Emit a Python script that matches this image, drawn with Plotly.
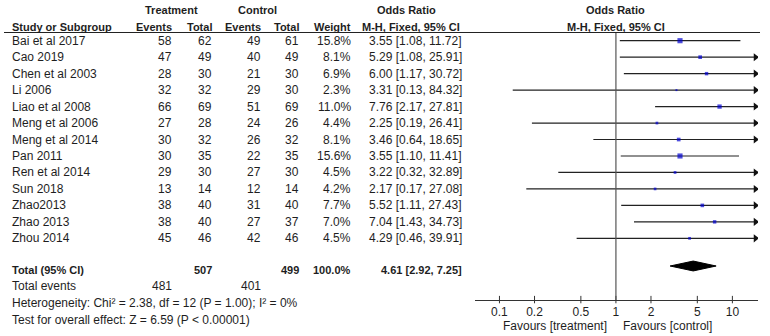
import math
import plotly.graph_objects as go

# ---------------- data ----------------
studies = ["Bai et al 2017", "Cao 2019", "Chen et al 2003", "Li 2006", "Liao et al 2008",
           "Meng et al 2006", "Meng et al 2014", "Pan 2011", "Ren et al 2014", "Sun 2018",
           "Zhao2013", "Zhao 2013", "Zhou 2014"]
t_events = [58, 47, 28, 32, 66, 27, 30, 30, 29, 13, 38, 38, 45]
t_total = [62, 49, 30, 32, 69, 28, 32, 35, 30, 14, 40, 40, 46]
c_events = [49, 40, 21, 29, 51, 24, 26, 22, 27, 12, 31, 27, 42]
c_total = [61, 49, 30, 30, 69, 26, 32, 35, 30, 14, 40, 37, 46]
weights = [15.8, 8.1, 6.9, 2.3, 11.0, 4.4, 8.1, 15.6, 4.5, 4.2, 7.7, 7.0, 4.5]
or_est = [3.55, 5.29, 6.00, 3.31, 7.76, 2.25, 3.46, 3.55, 3.22, 2.17, 5.52, 7.04, 4.29]
or_lo = [1.08, 1.08, 1.17, 0.13, 2.17, 0.19, 0.64, 1.10, 0.32, 0.17, 1.11, 1.43, 0.46]
or_hi = [11.72, 25.91, 30.72, 84.32, 27.81, 26.41, 18.65, 11.41, 32.89, 27.08, 27.43, 34.73, 39.91]
pooled = [4.61, 2.92, 7.25]
total_weight = 100.0
tick_vals = [0.1, 0.2, 0.5, 1, 2, 5, 10]
tick_text = ["0.1", "0.2", "0.5", "1", "2", "5", "10"]
heterogeneity = "Heterogeneity: Chi² = 2.38, df = 12 (P = 1.00); I² = 0%"
overall = "Test for overall effect: Z = 6.59 (P < 0.00001)"

# ---------------- layout constants ----------------
W, H = 770, 336
ROW0, ROWH = 40.7, 16.47          # pixel of first study row, row pitch
def rowpix(p):                     # pixel y -> row units
    return (p - ROW0) / ROWH
LOGMIN, LOGMAX = -1.21, 1.22
XMAX = 10 ** LOGMAX
FONT = "Arial, Liberation Sans, sans-serif"
TXT = "#1e1e1e"
REG, BOLD = 12, 11

y_hdr1, y_hdr2, y_line = rowpix(10), rowpix(27), rowpix(32.5)
y_total, y_diam = rowpix(270), rowpix(266)
y_tev, y_het, y_test = rowpix(286), rowpix(303), rowpix(320)
y_axis = rowpix(300)
n = len(studies)
ys = list(range(n))

fig = go.Figure()

# CI lines
for i in range(n):
    hi = min(or_hi[i], XMAX)
    fig.add_trace(go.Scatter(x=[or_lo[i], hi], y=[ys[i], ys[i]], mode="lines",
                             line=dict(color="#222", width=1.2), xaxis="x2", yaxis="y",
                             hoverinfo="skip", showlegend=False))
# arrows for truncated CIs
arr_y = [ys[i] for i in range(n) if or_hi[i] > XMAX]
fig.add_trace(go.Scatter(x=[XMAX / 10 ** (2.5 / 116.5)] * len(arr_y), y=arr_y, mode="markers",
                         marker=dict(symbol="triangle-right", size=7, color="#111"),
                         xaxis="x2", yaxis="y", hoverinfo="skip", showlegend=False))
# squares
fig.add_trace(go.Scatter(x=or_est, y=ys, mode="markers",
                         marker=dict(symbol="square", size=[1.3 * w ** 0.5 for w in weights],
                                     color="#0000d0", line=dict(width=0)),
                         xaxis="x2", yaxis="y", hoverinfo="skip", showlegend=False))
# diamond
est, lo, hi = pooled
dh = 0.30
fig.add_trace(go.Scatter(x=[lo, est, hi, est, lo], y=[y_diam, y_diam - dh, y_diam, y_diam + dh, y_diam],
                         mode="lines", fill="toself", fillcolor="#000", line=dict(color="#000", width=1),
                         xaxis="x2", yaxis="y", hoverinfo="skip", showlegend=False))
# tick marks crossing the axis line
tx, ty = [], []
for v in tick_vals:
    tx += [v, v, None]
    ty += [y_axis - 0.25, y_axis + 0.2, None]
fig.add_trace(go.Scatter(x=tx, y=ty, mode="lines", line=dict(color="#333", width=1),
                         xaxis="x2", yaxis="y", hoverinfo="skip", showlegend=False))
# null line
fig.add_trace(go.Scatter(x=[1, 1], y=[y_line, y_axis], mode="lines", line=dict(color="#555", width=1.2),
                         xaxis="x2", yaxis="y", hoverinfo="skip", showlegend=False))
# header line
fig.add_shape(type="line", xref="x", yref="y", x0=4, x1=760, y0=y_line, y1=y_line,
              line=dict(color="#222", width=1.2))

ann = []
def txt(x, y, s, anchor="right", bold=False, xref="x", xshift=0):
    ann.append(dict(x=x, y=y, xref=xref, yref="y", text=f"<b>{s}</b>" if bold else s,
                    showarrow=False, xanchor=anchor, yanchor="middle", borderpad=0, xshift=xshift,
                    font=dict(family=FONT, size=BOLD if bold else REG, color=TXT)))

NULL = math.log10(1)   # annotation position on the log axis

# headers
txt(171, y_hdr1, "Treatment", "center", True)
txt(257, y_hdr1, "Control", "center", True)
txt(406, y_hdr1, "Odds Ratio", "center", True)
txt(NULL, y_hdr1, "Odds Ratio", "center", True, xref="x2")
txt(11, y_hdr2, "Study or Subgroup", "left", True)
txt(173, y_hdr2, "Events", "right", True)
txt(213, y_hdr2, "Total", "right", True)
txt(262, y_hdr2, "Events", "right", True)
txt(300, y_hdr2, "Total", "right", True)
txt(352, y_hdr2, "Weight", "right", True)
txt(411, y_hdr2, "M-H, Fixed, 95% CI", "center", True)
txt(NULL, y_hdr2, "M-H, Fixed, 95% CI", "center", True, xref="x2")

# study rows
for i in range(n):
    y = ys[i]
    txt(11, y, studies[i], "left")
    txt(173, y, str(t_events[i]))
    txt(213, y, str(t_total[i]))
    txt(262, y, str(c_events[i]))
    txt(300, y, str(c_total[i]))
    txt(352, y, f"{weights[i]:.1f}%")
    txt(463, y, f"{or_est[i]:.2f} [{or_lo[i]:.2f}, {or_hi[i]:.2f}]")

# totals
txt(11, y_total, "Total (95% CI)", "left", True)
txt(213, y_total, str(sum(t_total)), "right", True)
txt(300, y_total, str(sum(c_total)), "right", True)
txt(352, y_total, f"{total_weight:.1f}%", "right", True)
txt(463, y_total, f"{est:.2f} [{lo:.2f}, {hi:.2f}]", "right", True)
txt(11, y_tev, "Total events", "left")
txt(173, y_tev, str(sum(t_events)))
txt(262, y_tev, str(sum(c_events)))
txt(11, y_het, heterogeneity, "left")
txt(11, y_test, overall, "left")

# favours
txt(NULL, rowpix(326), "Favours [treatment]", "right", xref="x2", xshift=-8)
txt(NULL, rowpix(326), "Favours [control]", "left", xref="x2", xshift=6)

fig.update_layout(
    width=W, height=H, margin=dict(l=0, r=0, t=0, b=0),
    paper_bgcolor="white", plot_bgcolor="white", showlegend=False,
    annotations=ann,
    xaxis=dict(range=[0, W], domain=[0, 1], visible=False, fixedrange=True),
    yaxis=dict(range=[rowpix(H), rowpix(0)], domain=[0, 1], visible=False, fixedrange=True),
    xaxis2=dict(type="log", range=[LOGMIN, LOGMAX], domain=[475 / W, 758 / W], anchor="free",
                position=1 - 300 / H, showline=True, linecolor="#333", linewidth=1.2,
                tickvals=tick_vals, ticktext=tick_text, ticks="",
                showgrid=False, zeroline=False,
                tickfont=dict(family=FONT, size=REG, color=TXT), fixedrange=True),
)

fig.write_html("out.html", config={"displayModeBar": False},
               post_script="document.body.style.margin='0';")
